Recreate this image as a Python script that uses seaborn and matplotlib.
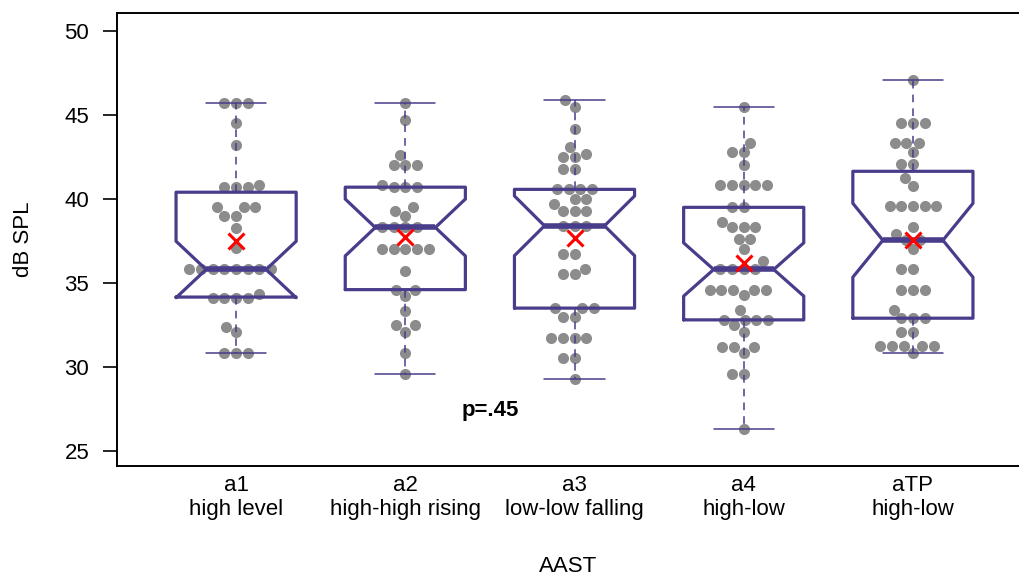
import matplotlib
matplotlib.use("Agg")
import matplotlib.pyplot as plt
import seaborn as sns
import pandas as pd

categories = ["a1\nhigh level", "a2\nhigh-high rising", "a3\nlow-low falling",
              "a4\nhigh-low", "aTP\nhigh-low"]

a1 = [45.73, 45.73, 45.73, 44.5, 43.2, 40.85, 40.7, 40.7, 40.7, 39.5, 39.5, 39.5,
      39.0, 39.0, 38.26, 37.1, 35.8, 35.8, 35.8, 35.8, 35.8, 35.8, 35.8, 35.8,
      34.33, 34.1, 34.1, 34.1, 34.1, 32.4, 32.1, 30.85, 30.85, 30.85]
a2 = [45.7, 44.7, 42.6, 42.0, 42.0, 42.0, 40.85, 40.7, 40.7, 40.7, 39.5, 39.3,
      39.0, 38.3, 38.3, 38.3, 38.3, 37.0, 37.0, 37.0, 37.0, 37.0, 35.7, 34.6,
      34.6, 34.2, 33.3, 32.5, 32.5, 32.1, 30.8, 29.6]
a3 = [45.87, 45.48, 44.15, 43.1, 42.7, 42.5, 42.5, 41.77, 41.77, 40.57, 40.57,
      40.57, 40.57, 40.0, 40.0, 39.7, 39.3, 39.3, 39.3, 38.4, 38.4, 38.4, 36.75,
      36.75, 35.8, 35.55, 35.55, 33.5, 33.5, 33.5, 33.0, 33.0, 31.74, 31.74,
      31.74, 31.74, 30.55, 30.55, 29.27]
a4 = [45.48, 43.35, 42.8, 42.8, 42.02, 40.8, 40.8, 40.8, 40.8, 40.8, 39.5, 39.5,
      38.6, 38.3, 38.3, 38.3, 37.6, 37.6, 37.0, 36.3, 35.8, 35.8, 35.8, 35.8,
      34.58, 34.58, 34.58, 34.58, 34.58, 34.3, 33.4, 32.8, 32.8, 32.8, 32.8,
      32.5, 32.1, 31.2, 31.2, 31.2, 30.85, 29.57, 29.57, 26.33]
aTP = [47.07, 44.54, 44.54, 44.54, 43.35, 43.35, 43.35, 42.8, 42.06, 42.06,
       41.23, 40.77, 39.55, 39.55, 39.55, 39.55, 39.55, 38.35, 37.9, 37.54,
       37.54, 37.0, 35.8, 35.8, 34.6, 34.6, 34.6, 33.4, 32.9, 32.9, 32.9, 32.1,
       32.1, 31.25, 31.25, 31.25, 31.25, 31.25, 30.85]

series = [a1, a2, a3, a4, aTP]
yticks = [25, 30, 35, 40, 45, 50]

rows = []
for cat, vals in zip(categories, series):
    for v in vals:
        rows.append({"cat": cat, "val": v})
df = pd.DataFrame(rows)

sns.set_style("white")
plt.rcParams["font.family"] = ["Liberation Sans", "DejaVu Sans"]
plt.rcParams["text.color"] = "black"
plt.rcParams["axes.labelcolor"] = "black"
plt.rcParams["xtick.color"] = "black"
plt.rcParams["ytick.color"] = "black"

fig = plt.figure(figsize=(10.2, 5.76), dpi=100)
ax = fig.add_axes([117 / 1020, 1 - 466 / 576, 1 - 117 / 1020, (466 - 13) / 576])

box_color = "#483D8B"

sns.swarmplot(data=df, x="cat", y="val", order=categories, color="#8c8c8c",
              size=8, ax=ax, zorder=1)

sns.boxplot(data=df, x="cat", y="val", order=categories, ax=ax,
            notch=True, width=0.71, fill=False, color=box_color, linewidth=2.3,
            showfliers=False, showmeans=True,
            meanprops=dict(marker="x", markeredgecolor="red", markerfacecolor="red",
                           markersize=12, markeredgewidth=2.2, zorder=5),
            whiskerprops=dict(linestyle=(0, (5, 4)), linewidth=1.1),
            capprops=dict(linewidth=1.1),
            medianprops=dict(linewidth=4, color=box_color))

ax.set_xlim(-0.704, 4.633)
ax.set_ylim(24.1, 51.07)
ax.set_yticks(yticks)
ax.set_yticklabels([str(t) for t in yticks])

for side in ["left", "top", "bottom"]:
    ax.spines[side].set_visible(True)
    ax.spines[side].set_color("black")
    ax.spines[side].set_linewidth(1.4)
ax.spines["right"].set_visible(False)

ax.tick_params(axis="y", which="major", left=True, length=10, width=1.2,
               direction="out", color="black", labelsize=16, pad=10,
               labelcolor="black")
ax.tick_params(axis="x", which="major", bottom=False, labelsize=16, pad=3,
               labelcolor="black")
for lbl in ax.get_xticklabels():
    lbl.set_linespacing(1.2)

ax.set_xlabel("AAST", fontsize=16, labelpad=26, color="black")
ax.set_ylabel("dB SPL", fontsize=16, labelpad=22, color="black")

ax.text(1.5, 27.4, "p=.45", fontsize=16, fontweight="bold", ha="center",
        va="center", color="black")

fig.savefig("out.png", dpi=100)
